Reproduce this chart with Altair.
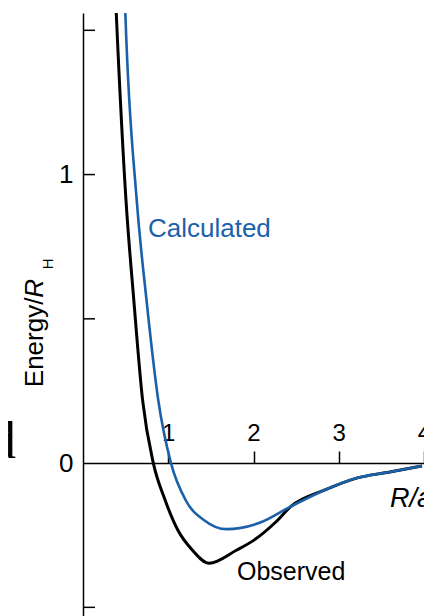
import altair as alt
import pandas as pd

# Observed (black) potential curve
obs_R = [0.378, 0.390, 0.504, 0.596, 0.699, 0.825, 0.963, 1.112, 1.284, 1.479,
         1.799, 2.006, 2.258, 2.440, 2.831, 3.209, 3.599, 3.977]
obs_E = [1.64, 1.560, 0.912, 0.565, 0.218, 0.0, -0.128, -0.232, -0.302, -0.347,
         -0.302, -0.267, -0.205, -0.150, -0.094, -0.052, -0.031, -0.010]

# Calculated (blue) curve
calc_R = [0.488, 0.496, 0.630, 0.745, 0.883, 1.032, 1.203, 1.421, 1.685, 2.063,
          2.440, 2.831, 3.209, 3.599, 3.977]
calc_E = [1.64, 1.567, 0.912, 0.565, 0.218, 0.0, -0.128, -0.198, -0.229, -0.208,
          -0.150, -0.094, -0.052, -0.031, -0.010]

x_tick_values = [1, 2, 3, 4]
y_label_values = [0, 1]
y_tick_values = [-0.5, 0.5, 1, 1.5]

# Annotation texts and their anchor points (data units)
label_calc = ("Calculated", 0.762, 0.783)
label_obs = ("Observed", 1.806, -0.406)
label_raxis = ("R/a", 3.60, -0.153)
title_main = ("Energy/", -0.469, 0.263)
title_R = ("R", -0.469, 0.573)
title_H = ("H", -0.352, 0.672)
stray_d = ("d", -0.786, 0.017)

BLUE = "#1b61aa"
FONT = "Liberation Sans"

xs = alt.Scale(domain=[0, 4], nice=False, zero=False)
ys = alt.Scale(domain=[-0.53, 1.56], nice=False, zero=False)

obs = pd.DataFrame({"R": obs_R, "E": obs_E})
calc = pd.DataFrame({"R": calc_R, "E": calc_E})

x_axis = alt.Axis(orient="top", offset=-450, values=x_tick_values, tickSize=12,
                  tickColor="black", tickWidth=1.5, labelFontSize=24, labelPadding=6,
                  labelFont=FONT, labelColor="black", domainColor="black",
                  domainWidth=1.5, grid=False, title="", format="d", labelFlush=False)
y_axis = alt.Axis(orient="left", values=y_label_values, tickSize=0, labelPadding=10,
                  labelFontSize=26, labelFont=FONT, labelColor="black",
                  domainColor="black", domainWidth=1.5, grid=False, title="",
                  format="d", labelFlush=False)

X = alt.X("R:Q", scale=xs, axis=x_axis)
Y = alt.Y("E:Q", scale=ys, axis=y_axis)

black_line = alt.Chart(obs).mark_line(color="black", strokeWidth=3, clip=True,
                                      interpolate="monotone").encode(x=X, y=Y)
blue_line = alt.Chart(calc).mark_line(color=BLUE, strokeWidth=2.6, clip=True,
                                      interpolate="monotone").encode(x=X, y=Y)

yt = pd.DataFrame({"E": y_tick_values})
y_ticks = alt.Chart(yt).mark_rule(color="black", strokeWidth=1.5).encode(
    y=Y,
    x=alt.value(0),
    x2=alt.value(12),
)


def text_layer(item, size, color="black", style="normal", font=FONT, angle=0,
               align="left"):
    t, r, e = item
    df = pd.DataFrame({"t": [t], "R": [r], "E": [e]})
    return alt.Chart(df).mark_text(
        fontSize=size, color=color, fontStyle=style, font=font, angle=angle,
        align=align, baseline="alphabetic", clip=False,
    ).encode(x=X, y=Y, text="t:N")


layers = [
    black_line,
    blue_line,
    y_ticks,
    text_layer(label_calc, 26, color=BLUE),
    text_layer(label_obs, 25),
    text_layer(label_raxis, 27, style="italic"),
    text_layer(title_main, 26, angle=270),
    text_layer(title_R, 26, style="italic", angle=270),
    text_layer(title_H, 15, angle=270),
    text_layer(stray_d, 53, font="Liberation Serif", align="right"),
]

chart = alt.layer(*layers).properties(
    width=341,
    height=603,
    autosize=alt.AutoSizeParams(type="none"),
    padding={"left": 75, "top": 5, "right": 0, "bottom": 0},
).configure_view(stroke=None)

chart.save("out.html", embed_options={"renderer": "svg", "actions": False})
